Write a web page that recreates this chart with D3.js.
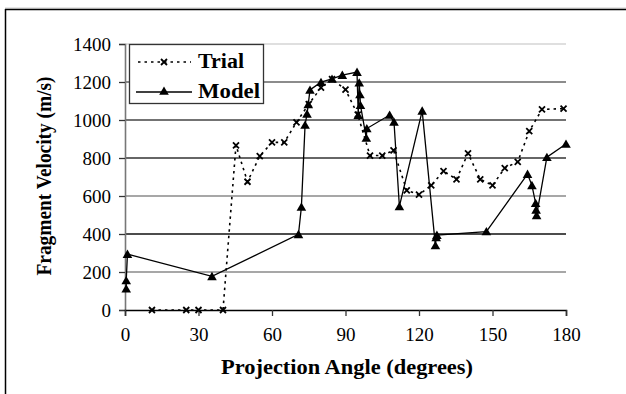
<!DOCTYPE html>
<html><head><meta charset="utf-8">
<script src="https://cdn.jsdelivr.net/npm/d3@7/dist/d3.min.js"></script>
<style>body{margin:0;background:#fff}svg{display:block}</style>
</head><body><svg id="c" width="626" height="394"></svg>
<script>
const xTicks = [0, 30, 60, 90, 120, 150, 180];
const yTicks = [0, 200, 400, 600, 800, 1000, 1200, 1400];
const seriesNames = ["Trial", "Model"];
const trialAngle = [11,25,30,40,45.3,50,55,60,65,70,75,80,84.5,90,95,100,105,109.6,115,120,125,130,135.3,140,145,150,155,160.3,165,170.2,179];
const trialVel   = [0,0,0,0,867,675,810,882,882,988,1083,1170,1215,1160,1028,813,813,840,630,607,656,731,688,824,688,656,747,780,941,1056,1060];
const modelAngle = [0.5,0.5,1,35.5,70.8,72,73.5,74.3,74.8,75.5,80,84.5,88.7,94.7,95.2,95.6,95.9,96.1,98.5,98.7,108,109.8,112,121.3,126.7,127,127.3,147.5,164.3,166.1,167.6,167.8,168,172.2,180];
const modelVel   = [112,155,294,177,398,542,974,1032,1082,1158,1199,1216,1236,1252,1025,1196,1134,1078,905,955,1026,989,545,1048,339,382,394,413,715,656,562,527,498,804,874];
const gridColors = ["#000","#8a8a8a","#111","#8a8a8a","#333","#444","#666","#d4d4d4"];

const svg = d3.select("#c");
const serif = "'Liberation Serif','Times New Roman',serif";
const x = d3.scaleLinear().domain([0,180]).range([125,566]);
const y = d3.scaleLinear().domain([0,1400]).range([310,44]);

// outer frame
svg.append("line").attr("x1",5).attr("x2",626).attr("y1",8).attr("y2",8).attr("stroke","#ccc").attr("stroke-width",1);
svg.append("line").attr("x1",5).attr("x2",626).attr("y1",9.5).attr("y2",9.5).attr("stroke","#000").attr("stroke-width",1.5);
svg.append("line").attr("x1",5.5).attr("x2",5.5).attr("y1",9).attr("y2",394).attr("stroke","#000").attr("stroke-width",1.5);

// gridlines
svg.append("g").selectAll("line").data(yTicks.slice(1)).join("line")
  .attr("x1",x(0)).attr("x2",x(180)).attr("y1",d=>y(d)).attr("y2",d=>y(d))
  .attr("stroke",(d,i)=>gridColors[i+1]).attr("stroke-width",1.4);

// axes
const yAxis = svg.append("g").attr("transform",`translate(${x(0)},0)`)
  .call(d3.axisLeft(y).tickValues(yTicks).tickSize(6).tickPadding(8).tickFormat(d3.format("d")));
const xAxis = svg.append("g").attr("transform",`translate(0,${y(0)})`)
  .call(d3.axisBottom(x).tickValues(xTicks).tickSize(6).tickPadding(12));
[yAxis,xAxis].forEach(g=>{
  g.selectAll("text").attr("font-family",serif).attr("font-size",19).attr("fill","#000");
  g.selectAll("line").attr("stroke","#333").attr("stroke-width",1.3);
});
yAxis.select(".domain").attr("stroke","#777").attr("stroke-width",1.6);
xAxis.select(".domain").attr("stroke","#000").attr("stroke-width",1.5);
yAxis.selectAll("text").attr("dy","0.35em");

// lines
const trial = trialAngle.map((a,i)=>[a,trialVel[i]]);
const model = modelAngle.map((a,i)=>[a,modelVel[i]]);
const line = d3.line().x(d=>x(d[0])).y(d=>y(d[1]));
svg.append("path").datum(trial).attr("d",line).attr("fill","none").attr("stroke","#000")
  .attr("stroke-width",1.6).attr("stroke-dasharray","2.5,4");
svg.append("path").datum(model).attr("d",line).attr("fill","none").attr("stroke","#000").attr("stroke-width",1.3);

const xMark = (g,cx,cy)=>g.append("path")
  .attr("d",`M${cx-3},${cy-3}L${cx+3},${cy+3}M${cx-3},${cy+3}L${cx+3},${cy-3}`)
  .attr("stroke","#000").attr("stroke-width",1.8);
const tri = d3.symbol().type(d3.symbolTriangle).size(40);
const tg = svg.append("g");
trial.forEach(d=>xMark(tg,x(d[0]),y(d[1])));
svg.append("g").selectAll("path").data(model).join("path")
  .attr("d",tri).attr("transform",d=>`translate(${x(d[0])},${y(d[1])+1})`).attr("fill","#000");

// legend
const lg = svg.append("g");
lg.append("rect").attr("x",129.5).attr("y",44.5).attr("width",134).attr("height",59)
  .attr("fill","#fff").attr("stroke","#333").attr("stroke-width",1.3);
lg.append("line").attr("x1",138).attr("x2",191).attr("y1",62).attr("y2",62)
  .attr("stroke","#000").attr("stroke-width",1.6).attr("stroke-dasharray","2.5,4");
xMark(lg,164,62);
lg.append("line").attr("x1",136).attr("x2",192).attr("y1",92).attr("y2",92).attr("stroke","#000").attr("stroke-width",1.3);
lg.append("path").attr("d",tri).attr("transform","translate(164,92)").attr("fill","#000");
lg.selectAll("text").data(seriesNames).join("text")
  .attr("x",198).attr("y",(d,i)=>68+i*30).text(d=>d)
  .attr("font-family",serif).attr("font-weight","bold").attr("font-size",20)
  .attr("textLength",(d,i)=>i?62:46).attr("lengthAdjust","spacingAndGlyphs");

// axis titles
svg.append("text").attr("x",347).attr("y",374).attr("text-anchor","middle")
  .attr("font-family",serif).attr("font-weight","bold").attr("font-size",20)
  .attr("textLength",252).attr("lengthAdjust","spacingAndGlyphs")
  .text("Projection Angle (degrees)");
svg.append("text").attr("transform","translate(51,176) rotate(-90)").attr("text-anchor","middle")
  .attr("font-family",serif).attr("font-weight","bold").attr("font-size",20)
  .attr("textLength",199).attr("lengthAdjust","spacingAndGlyphs")
  .text("Fragment Velocity (m/s)");
</script></body></html>
